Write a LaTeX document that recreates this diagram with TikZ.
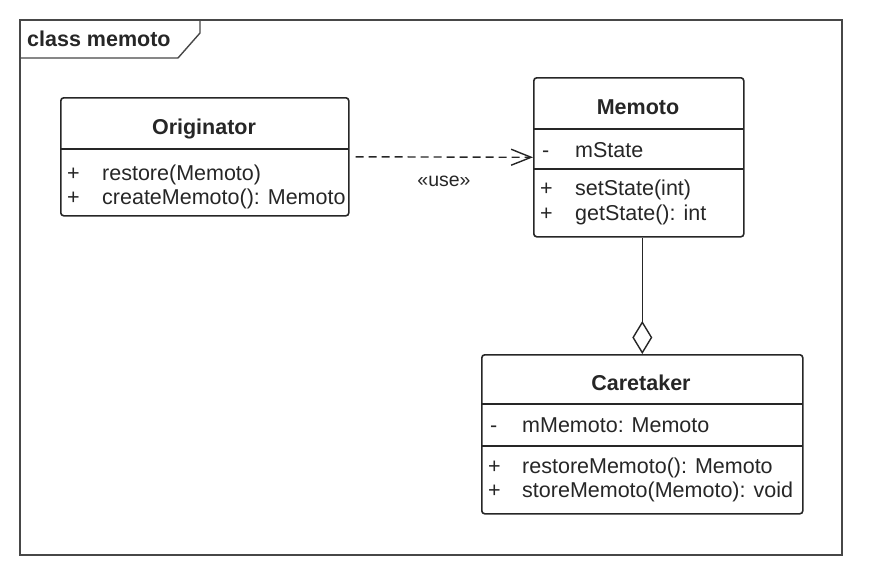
\documentclass[tikz,border=0pt]{standalone}
\usepackage{fontspec}
\setmainfont{Liberation Sans}
\usetikzlibrary{arrows.meta}
\definecolor{ink}{HTML}{262626}
\tikzset{
  frameline/.style={draw=ink!85, line width=1.4pt},
  classbox/.style={draw=ink, line width=1.6pt, rounded corners=3pt, anchor=north west, inner sep=0pt},
  sepline/.style={draw=ink, line width=1.4pt},
  ttl/.style={font=\fontsize{21.5}{23}\selectfont\bfseries, text=ink, anchor=base, inner sep=0pt},
  item/.style={font=\fontsize{21.5}{23}\selectfont, text=ink, anchor=base west, inner sep=0pt},
  dep/.style={draw=ink, line width=1.4pt, dash pattern=on 8pt off 5pt, -{Straight Barb[length=20pt,width=16pt,line width=1.4pt]}},
  aggr/.style={draw=ink, line width=1.4pt, -{Diamond[open,length=33pt,width=20pt,line width=1.4pt]}}
}
\begin{document}
\begin{tikzpicture}[x=1pt,y=-1pt]
\useasboundingbox (0,0) rectangle (870,570);
% frame
\draw[frameline] (20,20) rectangle (842,555);
\draw[frameline] (20,58) -- (178,58) -- (200,33) -- (200,20);
\node[font=\fontsize{21.5}{23}\selectfont\bfseries, text=ink, anchor=base west, inner sep=0pt] (frametitle) at (27,46) {class memoto};

% Originator
\node[classbox, minimum width=288pt, minimum height=118pt] (orig) at (60,97) {};
\draw[sepline] (60,149) -- (348,149);
\node[ttl] (origt) at (204,134) {Originator};
\node[item] (o1s) at (67,180) {+};
\node[item] (o1) at (102,180) {restore(Memoto)};
\node[item] (o2s) at (67,204) {+};
\node[item] (o2) at (102,204) {createMemoto(): Memoto};

% Memoto
\node[classbox, minimum width=210pt, minimum height=159pt] (memo) at (533,77) {};
\draw[sepline] (533,129) -- (743,129);
\draw[sepline] (533,169) -- (743,169);
\node[ttl] (memot) at (638,114) {Memoto};
\node[item] (m1s) at (542,157) {-};
\node[item] (m1) at (575,157) {mState};
\node[item] (m2s) at (540,195) {+};
\node[item] (m2) at (575,195) {setState(int)};
\node[item] (m3s) at (540,220) {+};
\node[item] (m3) at (575,220) {getState(): int};

% Caretaker
\node[classbox, minimum width=321pt, minimum height=159pt] (care) at (481,354) {};
\draw[sepline] (481,404) -- (802,404);
\draw[sepline] (481,446) -- (802,446);
\node[ttl] (caret) at (641,390) {Caretaker};
\node[item] (c1s) at (490,432) {-};
\node[item] (c1) at (522,432) {mMemoto: Memoto};
\node[item] (c2s) at (488,473) {+};
\node[item] (c2) at (522,473) {restoreMemoto(): Memoto};
\node[item] (c3s) at (488,497) {+};
\node[item] (c3) at (522,497) {storeMemoto(Memoto): void};

% connectors
\draw[dep] ([xshift=6pt]orig.east) -- (memo.west);
\node[font=\fontsize{19.5}{21}\selectfont, text=ink, inner sep=0pt] (uselbl) at (444,181) {«use»};
\draw[aggr] (memo.south -| care.north) -- (care.north);
\end{tikzpicture}
\end{document}
